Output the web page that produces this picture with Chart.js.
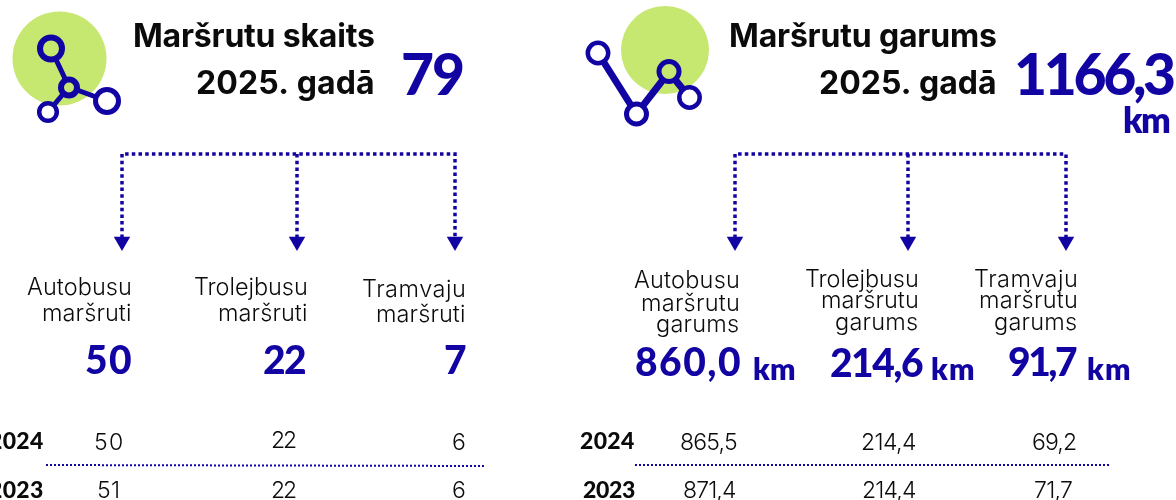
<!DOCTYPE html>
<html lang="lv">
<head>
<meta charset="utf-8">
<title>Maršrutu skaits un garums 2025. gadā</title>
<script src="https://cdn.jsdelivr.net/npm/chart.js@4"></script>
<style>html,body{margin:0;padding:0;background:#fff;overflow:hidden}canvas{display:block}</style>
</head>
<body>
<canvas id="c" width="1176" height="500"></canvas>
<script>
// ---------- data ----------
const countTotal2025 = 79;
const countValues2025 = [50, 22, 7];
const countValues2024 = [50, 22, 6];
const countValues2023 = [51, 22, 6];
const lengthTotal2025 = 1166.3;
const lengthValues2025 = [860.0, 214.6, 91.7];
const lengthValues2024 = [865.5, 214.4, 69.2];
const lengthValues2023 = [871.4, 214.4, 71.7];
const years = ['2024', '2023'];
const titleCount = 'Maršrutu skaits';
const titleLength = 'Maršrutu garums';
const titleYear = '2025. gadā';
const unit = 'km';
const countLabels = [['Autobusu', 'maršruti'], ['Trolejbusu', 'maršruti'], ['Tramvaju', 'maršruti']];
const lengthLabels = [['Autobusu', 'maršrutu', 'garums'], ['Trolejbusu', 'maršrutu', 'garums'], ['Tramvaju', 'maršrutu', 'garums']];

// ---------- style ----------
const BLUE = '#1204a3', GREEN = '#c6e770', BLACK = '#0b0b0b';
const FONT = 'Inter, "Open Sans", sans-serif';
const NUMFONT = 'Lato, Inter, sans-serif';
const num = v => v.toFixed(1).replace('.', ',');

// ---------- diagram layout (canvas is a 1176x500 plotting space) ----------
const layout = {
  left: { busX: [122, 297, 455], discX: 59.5, discY: 58.5, discR: 47 },
  right: { busX: [735, 908, 1066], discX: 665, discY: 50, discR: 44 },
  busY: 154, dropY: 238, arrowY: 241.5, ruleY: 465
};
const busLine = (xs) => [[xs[0], layout.dropY], [xs[0], layout.busY], [xs[2], layout.busY], [xs[2], layout.dropY]];
const drop = (x) => [[x, layout.busY], [x, layout.dropY]];
const pts = a => a.map(p => ({ x: p[0], y: p[1] }));
const dashed = (path, w, dash) => ({ type: 'line', data: pts(path), borderColor: BLUE, borderWidth: w, borderDash: dash, pointRadius: 0, fill: false, tension: 0, order: 5 });
const solid = (path, w) => ({ type: 'line', data: pts(path), borderColor: BLUE, borderWidth: w, pointRadius: 0, fill: false, tension: 0, order: 8 });
const ring = (x, y, r, w, fill) => ({ type: 'scatter', data: [{ x, y }], pointRadius: r, pointHoverRadius: r, pointBackgroundColor: fill, pointBorderColor: BLUE, pointBorderWidth: w, order: 3 });
const disc = (x, y, r) => ({ type: 'scatter', data: [{ x, y }], pointRadius: r, pointHoverRadius: r, pointBackgroundColor: GREEN, pointBorderWidth: 0, order: 10 });
const arrows = xs => ({ type: 'scatter', data: xs.map(x => ({ x, y: layout.arrowY })), pointStyle: 'triangle', rotation: 180, pointRadius: 9.5, pointHoverRadius: 9.5, pointBackgroundColor: BLUE, pointBorderWidth: 0, order: 2 });

const datasets = [
  disc(layout.left.discX, layout.left.discY, layout.left.discR),
  disc(layout.right.discX, layout.right.discY, layout.right.discR),
  solid([[51, 49], [69, 87], [107, 101]], 5),
  solid([[69, 87], [48, 112]], 5),
  ring(51, 48.5, 11, 6, GREEN), ring(69, 87.5, 8, 6, GREEN), ring(107, 101, 11.5, 5, '#fff'), ring(48, 112, 8.8, 4.5, '#fff'),
  solid([[598, 53], [636.5, 114], [669, 72], [689.5, 97.5]], 7),
  ring(598, 53, 10.2, 4.5, '#fff'), ring(636.5, 114, 10, 5, '#fff'), ring(669, 71.5, 10, 5, GREEN), ring(689.5, 97.5, 10.2, 4.5, '#fff'),
  dashed(busLine(layout.left.busX), 3.5, [3.5, 3.2]), dashed(drop(layout.left.busX[1]), 3.5, [3.5, 3.2]),
  dashed(busLine(layout.right.busX), 3.5, [3.5, 3.2]), dashed(drop(layout.right.busX[1]), 3.5, [3.5, 3.2]),
  arrows(layout.left.busX), arrows(layout.right.busX),
  dashed([[46, layout.ruleY], [485, layout.ruleY + 1]], 2, [2, 2]),
  dashed([[635, layout.ruleY], [1109, layout.ruleY]], 2, [2, 2])
];

// ---------- text: string, left, right, baseline, size, weight, colour, font ----------
const T = [];
const put = (s, l, r, y, size, w, col, font) => T.push({ s, l, r, y, size, w, col, font: font || FONT });
put(titleCount, 135, 374, 47, 32, 700, BLACK);
put(titleYear, 197, 373, 94, 32, 700, BLACK);
put(String(countTotal2025), 403, 463, 95, 57, 900, BLUE, NUMFONT);
put(titleLength, 731, 996, 47, 32, 700, BLACK);
put(titleYear, 820, 995, 94, 32, 700, BLACK);
put(num(lengthTotal2025), 1017, 1174, 95, 57, 900, BLUE, NUMFONT);
put(unit, 1124, 1170, 133, 35, 800, BLUE, NUMFONT);

const lLab = [[[27, 130], [43, 130]], [[195, 306], [219, 306]], [[363, 464], [377, 464]]];
const lLabY = [[295, 320.5], [295, 320.5], [296.5, 322]];
countLabels.forEach((ls, i) => ls.forEach((s, j) => put(s, lLab[i][j][0], lLab[i][j][1], lLabY[i][j], 23.5, 300, BLACK)));
const cBig = [[86, 131], [264, 305], [445, 464]];
countValues2025.forEach((v, i) => put(String(v), cBig[i][0], cBig[i][1], 374, 39, 900, BLUE, NUMFONT));
const c24 = [[95, 122], [272, 296], [453, 464]];
const c24y = [450, 448, 450];
countValues2024.forEach((v, i) => put(String(v), c24[i][0], c24[i][1], c24y[i], 23, 300, BLACK));
const c23 = [[98, 118], [272, 296], [453, 464]];
countValues2023.forEach((v, i) => put(String(v), c23[i][0], c23[i][1], 498, 23, 300, BLACK));
put(years[0], -11, 43, 449, 23, 900, BLACK, NUMFONT);
put(years[1], -11, 43, 498, 23, 900, BLACK, NUMFONT);

const rLab = [[[634, 738], [642, 738], [657, 738]], [[806, 917], [822, 917], [836, 917]], [[975, 1076], [980, 1076], [995, 1076]]];
const rLabY = [[288, 310.5, 332], [286.5, 308, 330], [286.5, 308, 330]];
lengthLabels.forEach((ls, i) => ls.forEach((s, j) => put(s, rLab[i][j][0], rLab[i][j][1], rLabY[i][j], 23.5, 300, BLACK)));
const lBig = [[636, 740, 376], [831, 923, 377], [1009, 1077, 376]];
lengthValues2025.forEach((v, i) => put(num(v), lBig[i][0], lBig[i][1], lBig[i][2], 39, 900, BLUE, NUMFONT));
[[754, 795], [932, 974], [1088, 1130]].forEach(p => put(unit, p[0], p[1], 380, 30, 800, BLUE, NUMFONT));
const l24 = [[681, 737], [862, 916], [1033, 1076]];
lengthValues2024.forEach((v, i) => put(num(v), l24[i][0], l24[i][1], 450, 23, 300, BLACK));
const l23 = [[684, 736], [863, 916], [1035, 1072]];
lengthValues2023.forEach((v, i) => put(num(v), l23[i][0], l23[i][1], 498, 23, 300, BLACK));
put(years[0], 580, 634, 449, 23, 900, BLACK, NUMFONT);
put(years[1], 583, 635, 498, 23, 900, BLACK, NUMFONT);

const textPlugin = {
  id: 'infographicText',
  afterDatasetsDraw(chart) {
    const ctx = chart.ctx, sx = chart.scales.x, sy = chart.scales.y;
    ctx.save();
    ctx.textAlign = 'left';
    ctx.textBaseline = 'alphabetic';
    T.forEach(t => {
      ctx.font = `${t.w} ${t.size}px ${t.font}`;
      ctx.letterSpacing = '0px';
      const m = ctx.measureText(t.s);
      const ink = m.actualBoundingBoxRight + m.actualBoundingBoxLeft;
      const target = t.r - t.l;
      const ls = t.s.length > 1 ? (target - ink) / (t.s.length - 1) : 0;
      ctx.letterSpacing = ls.toFixed(2) + 'px';
      ctx.fillStyle = t.col;
      ctx.fillText(t.s, sx.getPixelForValue(t.l + m.actualBoundingBoxLeft), sy.getPixelForValue(t.y));
    });
    ctx.restore();
  }
};

new Chart(document.getElementById('c'), {
  type: 'scatter',
  data: { datasets },
  plugins: [textPlugin],
  options: {
    responsive: false,
    animation: false,
    events: [],
    layout: { padding: 0, autoPadding: false },
    plugins: { legend: { display: false }, tooltip: { enabled: false }, title: { display: false } },
    scales: {
      x: { type: 'linear', min: 0, max: 1176, display: false },
      y: { type: 'linear', min: 0, max: 500, reverse: true, display: false }
    }
  }
});
</script>
</body>
</html>
